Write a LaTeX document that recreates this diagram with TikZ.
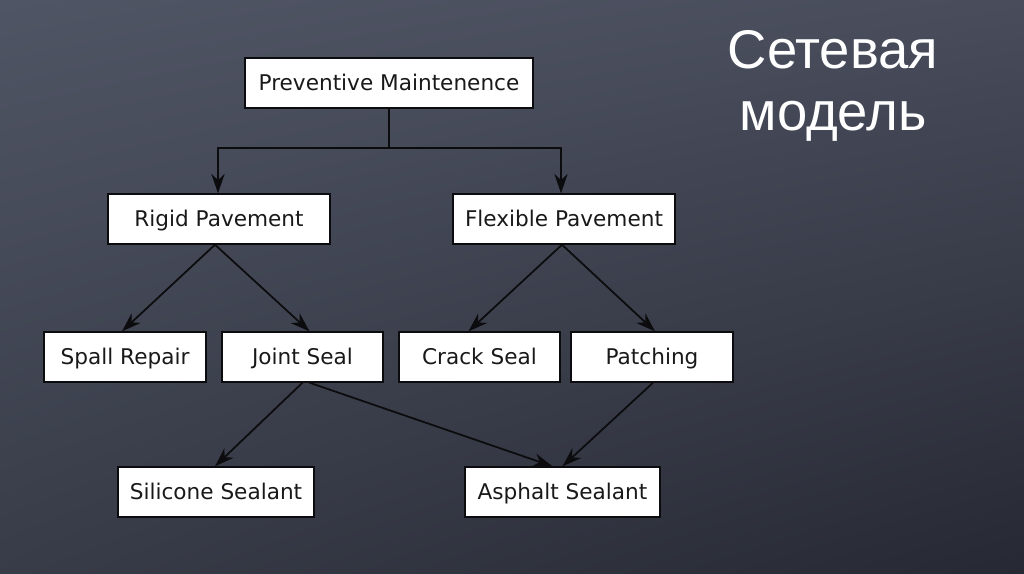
\documentclass[tikz,border=0pt]{standalone}
\usepackage{fontspec}
\setmainfont{DejaVu Sans}
\newfontfamily\titlefont{Liberation Sans}
\usetikzlibrary{arrows.meta,positioning,calc,shadings}
\definecolor{boardtl}{RGB}{80,85,101}
\definecolor{boardtr}{RGB}{72,76,91}
\definecolor{boardbl}{RGB}{56,60,72}
\definecolor{boardbr}{RGB}{38,41,51}
\definecolor{inkline}{RGB}{12,12,14}

\begin{document}
\begin{tikzpicture}[x=0.02cm,y=-0.02cm,>={Stealth[length=11pt,width=7.5pt,inset=3.5pt]},
  box/.style={draw=inkline,line width=0.8pt,fill=white,text=black!90,
              minimum height=1cm,inner sep=0pt,text height=9pt,text depth=0.4pt,
              font=\fontsize{12.3}{14}\selectfont},
  link/.style={->,draw=inkline,line width=1pt}]
% board
\useasboundingbox (0,0) rectangle (1024,574);
\shade[upper left=boardtl,upper right=boardtr,lower left=boardbl,lower right=boardbr]
  (0,0) rectangle (1024,574);
\node[align=center,text=white,font=\titlefont\fontsize{31}{35}\selectfont] (title) at (833,86) {Сетевая\\модель};
% boxes
\node[box,minimum width=5.76cm] (pm) at (389,83) {Preventive Maintenence};
\node[box,minimum width=4.44cm] (rigid) at (219,219) {Rigid Pavement};
\node[box,minimum width=4.44cm] (flex) at (564,219) {Flexible Pavement};
\node[box,minimum width=3.24cm] (spall) at (125,357) {Spall Repair};
\node[box,minimum width=3.22cm] (joint) at (302.5,357) {Joint Seal};
\node[box,minimum width=3.22cm] (crack) at (479.5,357) {Crack Seal};
\node[box,minimum width=3.24cm] (patch) at (652,357) {Patching};
\node[box,minimum width=3.92cm] (silicone) at (216,492) {Silicone Sealant};
\node[box,minimum width=3.9cm] (asphalt) at (562.5,492) {Asphalt Sealant};
% links
\coordinate (fork) at ($(pm.south)+(0,39)$);
\draw[draw=inkline,line width=1pt] (pm.south) -- (fork);
\draw[link] (fork) -| ($(rigid.north)+(-1,0)$);
\draw[link] (fork) -| ($(flex.north)+(-3,0)$);
\draw[link] ($(rigid.south)+(-4,0)$) -- ($(spall.north)+(-3,0)$);
\draw[link] ($(rigid.south)+(-4,0)$) -- ($(joint.north)+(7,0)$);
\draw[link] ($(flex.south)+(-2,0)$) -- ($(crack.north)+(-11,0)$);
\draw[link] ($(flex.south)+(-2,0)$) -- ($(patch.north)+(3,0)$);
\draw[link] (joint.south) -- ($(silicone.north)+(-1,0)$);
\draw[link] ($(joint.south)+(7,0)$) -- ($(asphalt.north)+(-10,0)$);
\draw[link] ($(patch.south)+(1,0)$) -- ($(asphalt.north)+(0,0)$);
\end{tikzpicture}
\end{document}
